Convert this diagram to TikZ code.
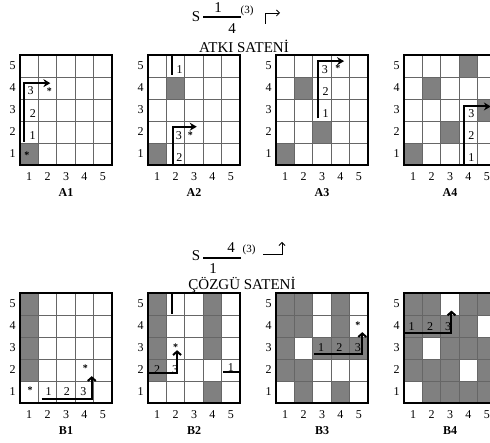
\documentclass[tikz,border=0pt]{standalone}
\usepackage{fontspec}
\setmainfont{Liberation Serif}
\usetikzlibrary{arrows.meta}
\definecolor{warpgray}{RGB}{128,128,128}
\tikzset{
  gridline/.style={draw=black!60, line width=0.9pt},
  gridframe/.style={draw=black, line width=2pt},
  axlabel/.style={font=\fontsize{12}{14}\selectfont, inner sep=0pt},
  gridtitle/.style={font=\fontsize{12}{14}\selectfont\bfseries, inner sep=0pt},
  cellnum/.style={font=\fontsize{12}{14}\selectfont, inner sep=0pt},
  starmark/.style={font=\normalsize\bfseries, inner sep=0pt},
  countpath/.style={line width=2pt, -{Stealth[length=7pt,width=8pt]}},
  countbarb/.style={line width=2pt, -{Straight Barb[length=3.5pt,width=8pt]}},
  countline/.style={line width=2pt},
  headtext/.style={font=\fontsize{15}{18}\selectfont, inner sep=0pt},
  headsup/.style={font=\fontsize{11}{13}\selectfont, inner sep=0pt},
  headarrow/.style={line width=0.8pt, -{Straight Barb[length=3pt,width=6pt]}}
}
% one 5x5 grid with its axis numbers and title
\newcommand{\weavegrid}[1]{%
  \foreach \k in {1,...,4}{
    \draw[gridline] (\k,0) -- (\k,5);
    \draw[gridline] (0,\k) -- (5,\k);
  }
  \draw[gridframe] (0,0) rectangle (5,5);
  \foreach \i in {1,...,5}{
    \node[axlabel] (#1-col\i) at (\i-0.5,-0.54) {\i};
    \node[axlabel] (#1-row\i) at (-0.4,\i-0.5) {\i};
  }
  \node[gridtitle] (#1-title) at (2.5,-1.27) {#1};
}

\begin{document}
\begin{tikzpicture}[x=1pt, y=1pt]
  \useasboundingbox (0,0) rectangle (490,443);
  \def\xA{20} \def\xB{148} \def\xC{276} \def\xD{404}
  \def\yA{278} \def\yB{40}

  % Header: weft satin
  \node[headtext] (hdrS1) at (196,426) {S};
  \node[headtext] (hdrN1) at (218,435) {1};
  \node[headtext] (hdrD1) at (232,414) {4};
  \node[headsup] (hdrR1) at (247,432) {(3)};
  \draw[line width=1.3pt] (203,426) -- (241,426);
  \draw[headarrow] (265,419) -- (265,430) -- (280,430);
  \node[headtext] (hdrT1) at (244,397) {ATKI SATENİ};

  % Header: warp satin
  \node[headtext] (hdrS2) at (196,187) {S};
  \node[headtext] (hdrN2) at (231,195) {4};
  \node[headtext] (hdrD2) at (213,174) {1};
  \node[headsup] (hdrR2) at (249,193) {(3)};
  \draw[line width=1.3pt] (203,185) -- (241,185);
  \draw[headarrow] (263,189) -- (282,189) -- (282,201);
  \node[headtext] (hdrT2) at (242,158) {ÇÖZGÜ SATENİ};

  % A1
  \begin{scope}[shift={(\xA,\yA)}, x=18.4pt, y=22pt]
    \fill[warpgray] (0,0) rectangle +(1,1);
    \weavegrid{A1}
    \draw[countpath] (0.22,1.06) -- (0.22,3.72) -- (1.65,3.72);
    \node[cellnum] (A1-n1) at (0.68,1.34) {1};
    \node[cellnum] (A1-n2) at (0.70,2.34) {2};
    \node[cellnum] (A1-n3) at (0.58,3.36) {3};
    \node[starmark] (A1-s1) at (0.38,0.44) {*};
    \node[starmark] (A1-s2) at (1.60,3.36) {*};
  \end{scope}

  % A2
  \begin{scope}[shift={(\xB,\yA)}, x=18.4pt, y=22pt]
    \foreach \c/\r in {1/1,2/4}
      \fill[warpgray] (\c-1,\r-1) rectangle +(1,1);
    \weavegrid{A2}
    \draw[countline] (1.28,5) -- (1.28,4.08);
    \draw[countpath] (1.34,0) -- (1.34,1.74) -- (2.65,1.74);
    \node[cellnum] (A2-n1) at (1.72,4.32) {1};
    \node[cellnum] (A2-n2) at (1.70,0.32) {2};
    \node[cellnum] (A2-n3) at (1.68,1.32) {3};
    \node[starmark] (A2-s1) at (2.30,1.36) {*};
  \end{scope}

  % A3
  \begin{scope}[shift={(\xC,\yA)}, x=18.4pt, y=22pt]
    \foreach \c/\r in {1/1,2/4,3/2}
      \fill[warpgray] (\c-1,\r-1) rectangle +(1,1);
    \weavegrid{A3}
    \draw[countpath] (2.28,2.12) -- (2.28,4.72) -- (3.70,4.72);
    \node[cellnum] (A3-n1) at (2.70,2.34) {1};
    \node[cellnum] (A3-n2) at (2.70,3.32) {2};
    \node[cellnum] (A3-n3) at (2.66,4.34) {3};
    \node[starmark] (A3-s1) at (3.36,4.38) {*};
  \end{scope}

  % A4
  \begin{scope}[shift={(\xD,\yA)}, x=18.4pt, y=22pt]
    \foreach \c/\r in {1/1,2/4,3/2,4/5,5/3}
      \fill[warpgray] (\c-1,\r-1) rectangle +(1,1);
    \weavegrid{A4}
    \draw[countpath] (3.28,0) -- (3.28,2.66) -- (4.72,2.66);
    \node[cellnum] (A4-n1) at (3.66,0.34) {1};
    \node[cellnum] (A4-n2) at (3.66,1.34) {2};
    \node[cellnum] (A4-n3) at (3.66,2.34) {3};
  \end{scope}

  % B1
  \begin{scope}[shift={(\xA,\yB)}, x=18.4pt, y=22pt]
    \foreach \c/\r in {1/2,1/3,1/4,1/5}
      \fill[warpgray] (\c-1,\r-1) rectangle +(1,1);
    \weavegrid{B1}
    \draw[countbarb] (1.18,0.16) -- (3.90,0.16) -- (3.90,1.22);
    \node[cellnum] (B1-n1) at (1.55,0.52) {1};
    \node[cellnum] (B1-n2) at (2.55,0.52) {2};
    \node[cellnum] (B1-n3) at (3.45,0.52) {3};
    \node[starmark] (B1-s1) at (0.55,0.58) {*};
    \node[starmark] (B1-s2) at (3.55,1.56) {*};
  \end{scope}

  % B2
  \begin{scope}[shift={(\xB,\yB)}, x=18.4pt, y=22pt]
    \foreach \c/\r in {1/2,1/3,1/4,1/5,4/1,4/3,4/4,4/5}
      \fill[warpgray] (\c-1,\r-1) rectangle +(1,1);
    \weavegrid{B2}
    \draw[countline] (1.31,5) -- (1.31,4.05);
    \draw[countline] (4.10,1.42) -- (5,1.42);
    \draw[countbarb] (0,1.38) -- (1.58,1.38) -- (1.58,2.40);
    \node[cellnum] (B2-n1) at (4.50,1.60) {1};
    \node[cellnum] (B2-n2) at (0.50,1.54) {2};
    \node[cellnum] (B2-n3) at (1.48,1.54) {3};
    \node[starmark] (B2-s1) at (1.50,2.54) {*};
  \end{scope}

  % B3
  \begin{scope}[shift={(\xC,\yB)}, x=18.4pt, y=22pt]
    \foreach \c/\r in {1/2,1/3,1/4,1/5,2/1,2/2,2/4,2/5,4/1,4/3,4/4,4/5,3/3,5/3}
      \fill[warpgray] (\c-1,\r-1) rectangle +(1,1);
    \weavegrid{B3}
    \draw[countbarb] (2.09,2.22) -- (4.69,2.22) -- (4.69,3.22);
    \node[cellnum] (B3-n1) at (2.45,2.52) {1};
    \node[cellnum] (B3-n2) at (3.45,2.52) {2};
    \node[cellnum] (B3-n3) at (4.45,2.50) {3};
    \node[starmark] (B3-s1) at (4.45,3.52) {*};
  \end{scope}

  % B4
  \begin{scope}[shift={(\xD,\yB)}, x=18.4pt, y=22pt]
    \fill[warpgray] (0,0) rectangle (5,5);
    \foreach \c/\r in {1/1,4/2,2/3,5/4,3/5}
      \fill[white] (\c-1,\r-1) rectangle +(1,1);
    \weavegrid{B4}
    \draw[countbarb] (0,3.20) -- (2.58,3.20) -- (2.58,4.20);
    \node[cellnum] (B4-n1) at (0.42,3.47) {1};
    \node[cellnum] (B4-n2) at (1.42,3.47) {2};
    \node[cellnum] (B4-n3) at (2.40,3.47) {3};
  \end{scope}
\end{tikzpicture}
\end{document}
